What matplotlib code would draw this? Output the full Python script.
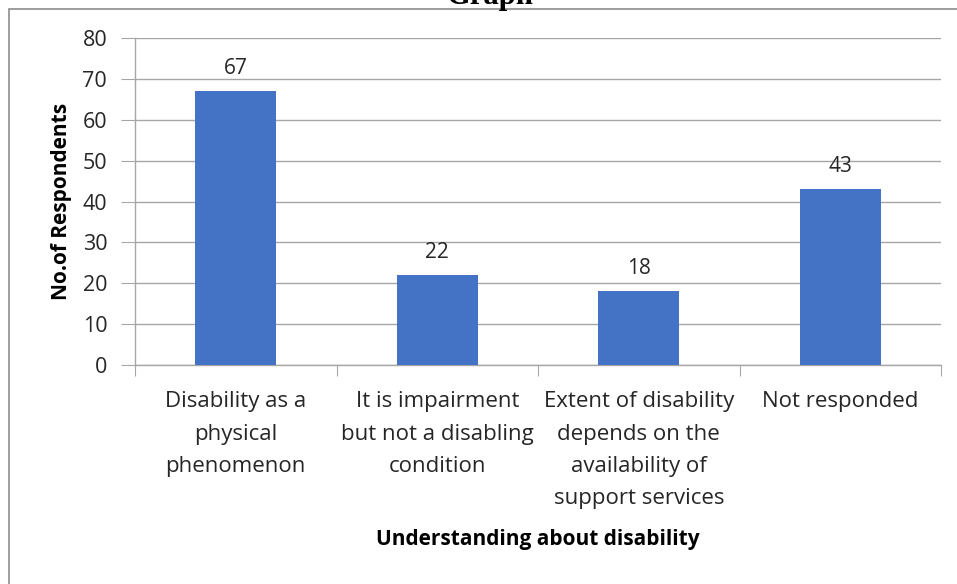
import matplotlib
matplotlib.use("Agg")
import matplotlib.pyplot as plt
from matplotlib.patches import Rectangle

categories = [
    "Disability as a\nphysical\nphenomenon",
    "It is impairment\nbut not a disabling\ncondition",
    "Extent of disability\ndepends on the\navailability of\nsupport services",
    "Not responded",
]
respondents = [67, 22, 18, 43]
y_ticks = [0, 10, 20, 30, 40, 50, 60, 70, 80]

plt.rcParams["font.family"] = ["Open Sans", "DejaVu Sans"]

W, H = 957, 584
fig = plt.figure(figsize=(W / 100, H / 100), dpi=100)

# outer chart frame
fig.patches.append(Rectangle((9 / W, -0.05), 1.2, 1 - 9 / H + 0.05,
                             transform=fig.transFigure, fill=False,
                             edgecolor="#8c8c8c", linewidth=1.2))

fig.text(490 / W, 1 - 4 / H, "Graph", ha="center", va="baseline",
         family="Liberation Serif", fontweight="bold", fontsize=22)

ax = fig.add_axes([135 / W, 1 - 365 / H, (941 - 135) / W, (365 - 38) / H])
x = list(range(len(categories)))
ax.bar(x, respondents, width=0.4, color="#4472c4", zorder=3)
for xi, v in zip(x, respondents):
    ax.text(xi, v + 3, str(v), ha="center", va="bottom", fontsize=15,
            color="#262626")

ax.set_xlim(-0.5, 3.5)
ax.set_ylim(0, 80)
ax.set_yticks(y_ticks)
ax.tick_params(axis="y", labelsize=15.5, length=10, color="#a6a6a6",
               labelcolor="#262626", pad=10)
ax.yaxis.grid(True, color="#a6a6a6", linewidth=1)
ax.set_axisbelow(True)

# boundary ticks between categories, labels centred under each bar
ax.set_xticks([-0.5, 0.5, 1.5, 2.5, 3.5])
ax.set_xticklabels([])
ax.tick_params(axis="x", length=8, color="#a6a6a6")
ax.set_xticks(x, minor=True)
ax.set_xticklabels(categories, minor=True, fontsize=16, color="#262626",
                   linespacing=1.7)
ax.tick_params(axis="x", which="minor", length=0, pad=19)

for s in ["top", "right"]:
    ax.spines[s].set_visible(False)
for s in ["left", "bottom"]:
    ax.spines[s].set_color("#a6a6a6")
    ax.spines[s].set_linewidth(1)

fig.text(62 / W, 1 - 201 / H, "No.of Respondents", rotation=90, ha="center",
         va="center", fontsize=15, fontweight="bold")
fig.text(538 / W, 1 - 539 / H, "Understanding about disability",
         ha="center", va="center", fontsize=15, fontweight="bold")

fig.savefig("out.png", dpi=100)
